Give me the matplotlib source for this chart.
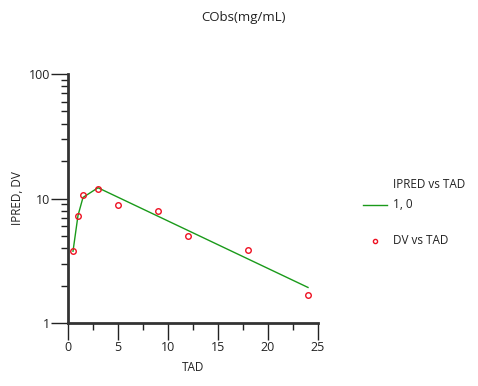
import matplotlib
matplotlib.use("Agg")
import matplotlib.pyplot as plt
from matplotlib.ticker import MultipleLocator, LogLocator, NullFormatter, FixedLocator

plt.rcParams['font.family'] = ['Open Sans', 'DejaVu Sans']

# observed concentrations
tad_dv = [0.5, 1, 1.5, 3, 5, 9, 12, 18, 24]
dv = [3.77, 7.3, 10.7, 11.9, 8.9, 7.9, 4.97, 3.86, 1.68]

# individual predictions
tad_ipred = [0.5, 1, 1.5, 3, 24]
ipred = [3.77, 7.3, 10.2, 12.2, 1.93]

fig = plt.figure(figsize=(4.78, 3.86), dpi=100)
ax = fig.add_axes([68 / 478, 63 / 386, 250 / 478, 249 / 386])

ax.plot(tad_ipred, ipred, color='#1a9a1a', lw=1.0, label='1, 0')
ax.plot(tad_dv, dv, ls='none', marker='o', ms=4, mfc='none', mec='#ee1122',
        mew=1.0, label='DV vs TAD')

ax.set_yscale('log')
ax.set_xlim(0, 25)
ax.set_ylim(1, 100)
ax.xaxis.set_major_locator(MultipleLocator(5))
ax.xaxis.set_minor_locator(MultipleLocator(2.5))
ax.yaxis.set_major_locator(FixedLocator([1, 10, 100]))
ax.yaxis.set_minor_locator(LogLocator(base=10, subs=range(2, 10)))
ax.yaxis.set_minor_formatter(NullFormatter())
ax.set_yticklabels(['1', '10', '100'])

for s in ['top', 'right']:
    ax.spines[s].set_visible(False)
for s in ['left', 'bottom']:
    ax.spines[s].set_linewidth(2)
    ax.spines[s].set_color('#333333')

ax.tick_params(which='major', length=12, width=1, color='#222222', labelsize=9,
               labelcolor='#222222', pad=1)
ax.tick_params(which='minor', length=5, width=1, color='#222222')

ax.set_xlabel('TAD', fontsize=8.5, color='#222222', labelpad=5)
ax.set_ylabel('IPRED, DV', fontsize=8.5, color='#222222', labelpad=3)
fig.text(0.51, 0.955, 'CObs(mg/mL)', ha='center', va='center', fontsize=9.5, color='#222222')

# legend
fig.text(393 / 478, 1 - 185 / 386, 'IPRED vs TAD', fontsize=8.5, va='center', color='#222222')
fig.text(393 / 478, 1 - 205 / 386, '1, 0', fontsize=8.5, va='center', color='#222222')
fig.text(393 / 478, 1 - 241 / 386, 'DV vs TAD', fontsize=8.5, va='center', color='#222222')
fig.lines.append(plt.Line2D([363 / 478, 387 / 478], [1 - 205 / 386, 1 - 205 / 386],
                            transform=fig.transFigure, color='#1a9a1a', lw=1.0))
fig.lines.append(plt.Line2D([375 / 478], [1 - 241 / 386], transform=fig.transFigure,
                            ls='none', marker='o', ms=3, mfc='none', mec='#ee1122', mew=1.0))

fig.savefig('out.png', dpi=100)
